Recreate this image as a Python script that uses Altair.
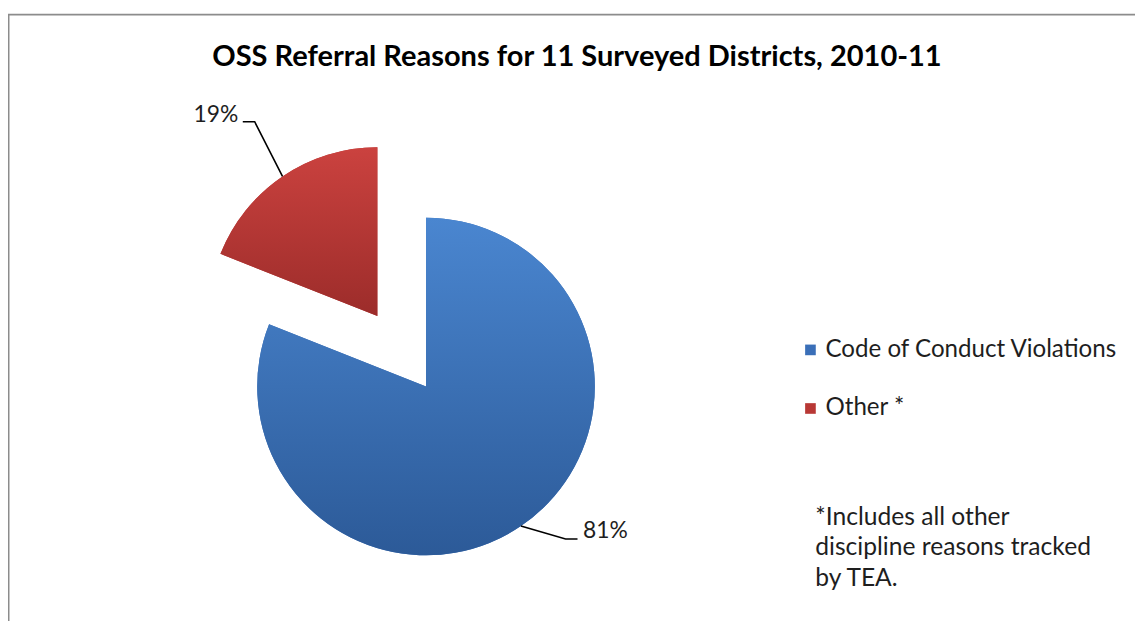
import math
import altair as alt
import pandas as pd

# ---- data ----
categories = ["Code of Conduct Violations", "Other *"]
values = [81, 19]
pct_labels = ["81%", "19%"]
title_text = "OSS Referral Reasons for 11 Surveyed Districts, 2010-11"
note_text = "*Includes all other\ndiscipline reasons tracked\nby TEA."

# ---- layout / style ----
W, H = 1135, 613
R = 170
FONT = "Lato"
TXT = "#1e1e1e"
centers = {"Code of Conduct Violations": (421, 379), "Other *": (372, 308)}
base_colors = {"Code of Conduct Violations": "#3a6fb8", "Other *": "#b83835"}
grad_colors = {
    "Code of Conduct Violations": ("#4a86d0", "#2c5a98"),
    "Other *": ("#cb423f", "#9c2c2a"),
}
# leader geometry relative to slice edge point: elbow, end; label offset from end
leader = {
    "Code of Conduct Violations": [(45, 13), (57, 13)],
    "Other *": [(-28, -55), (-40, -55)],
}
label_off = {"Code of Conduct Violations": (28, -8), "Other *": (-27, -7)}

df = pd.DataFrame({"category": categories, "value": values})

theta_scale = alt.Scale(domain=[0, sum(values)])
color_scale = alt.Scale(domain=categories, range=[base_colors[c] for c in categories])
xs = alt.Scale(domain=[0, W], range=[0, W], nice=False, zero=False)
ys = alt.Scale(domain=[0, H], range=[0, H], nice=False, zero=False)

base = alt.Chart(df).transform_window(
    cum="sum(value)", frame=[None, 0]
).transform_calculate(start="datum.cum - datum.value")

layers = []

frame = alt.Chart(pd.DataFrame({"a": [0]})).mark_rect(
    fillOpacity=0, stroke="#8c8c8c", strokeWidth=2
).encode(x=alt.value(0.5), y=alt.value(4.5), x2=alt.value(W + 40), y2=alt.value(H + 40))
layers.append(frame)

for cat in categories:
    cx, cy = centers[cat]
    sub = base.transform_filter(alt.datum.category == cat)
    solid = sub.mark_arc(outerRadius=R).encode(
        theta=alt.Theta("start:Q", scale=theta_scale, stack=None),
        theta2="cum:Q",
        color=alt.Color(
            "category:N",
            scale=color_scale,
            legend=alt.Legend(
                title=None,
                orient="none",
                legendX=796,
                legendY=330,
                symbolType="square",
                symbolSize=115,
                symbolStrokeWidth=0,
                labelFont=FONT,
                labelFontSize=24.3,
                labelColor=TXT,
                labelOffset=3,
                labelLimit=0,
                rowPadding=34,
                padding=0,
            ),
        ),
        x=alt.value(cx),
        y=alt.value(cy),
    )
    c0, c1 = grad_colors[cat]
    grad = sub.mark_arc(
        outerRadius=R,
        fill=alt.LinearGradient(
            gradient="linear",
            stops=[alt.GradientStop(color=c0, offset=0), alt.GradientStop(color=c1, offset=1)],
            x1=0, x2=0, y1=0, y2=1,
        ),
    ).encode(
        theta=alt.Theta("start:Q", scale=theta_scale, stack=None),
        theta2="cum:Q",
        x=alt.value(cx),
        y=alt.value(cy),
    )
    layers += [solid, grad]

# leader lines and labels derived from slice angles
rows, lab_rows = [], []
cum = 0
total = sum(values)
for cat, v, lab in zip(categories, values, pct_labels):
    mid = (cum + v / 2) / total * 2 * math.pi
    cum += v
    cx, cy = centers[cat]
    ex, ey = cx + R * math.sin(mid), cy - R * math.cos(mid)
    pts = [(ex, ey)] + [(ex + dx, ey + dy) for dx, dy in leader[cat]]
    for i, (px, py) in enumerate(pts):
        rows.append({"category": cat, "order": i, "px": px, "py": py})
    lx, ly = pts[-1]
    ox, oy = label_off[cat]
    lab_rows.append({"text": lab, "px": lx + ox, "py": ly + oy})

lines = alt.Chart(pd.DataFrame(rows)).mark_line(color="#000000", strokeWidth=1.6).encode(
    x=alt.X("px:Q", scale=xs, axis=None),
    y=alt.Y("py:Q", scale=ys, axis=None),
    detail="category:N",
    order="order:Q",
)
labels = alt.Chart(pd.DataFrame(lab_rows)).mark_text(
    font=FONT, fontSize=23, color=TXT, align="center", baseline="middle"
).encode(
    x=alt.X("px:Q", scale=xs, axis=None),
    y=alt.Y("py:Q", scale=ys, axis=None),
    text="text:N",
)
layers += [lines, labels]

title = alt.Chart(pd.DataFrame({"t": [title_text]})).mark_text(
    font=FONT, fontSize=29.2, fontWeight="bold", color="#000000", align="center", baseline="middle"
).encode(x=alt.value(573), y=alt.value(47), text="t:N")

note = alt.Chart(pd.DataFrame({"t": [note_text]})).mark_text(
    font=FONT, fontSize=24.8, color=TXT, align="left", baseline="middle", lineBreak="\n", lineHeight=31
).encode(x=alt.value(813), y=alt.value(511), text="t:N")
layers += [title, note]

chart = alt.layer(*layers).properties(
    width=W, height=H, padding=0, autosize=alt.AutoSizeParams(type="none")
).configure_view(stroke=None)

chart.save("out.html", embed_options={"renderer": "svg", "actions": False})
